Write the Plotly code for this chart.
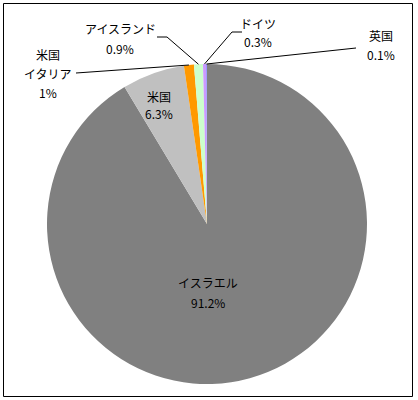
import math
import plotly.graph_objects as go

# data
names = ["イスラエル", "米国", "米国イタリア", "アイスランド", "ドイツ", "英国"]
values = [91.2, 6.3, 1.0, 0.9, 0.3, 0.1]
pct_text = ["91.2%", "6.3%", "1%", "0.9%", "0.3%", "0.1%"]
colors = ["#808080", "#C0C0C0", "#FF9900", "#CCFFCC", "#CC99FF", "#9999FF"]

W, H = 418, 400
cx, cy, r = 207, 224, 160

def px(x):
    return x / W

def py(y):
    return 1 - y / H

fig = go.Figure()
fig.add_trace(go.Pie(
    labels=names,
    values=values,
    marker=dict(colors=colors, line=dict(width=0)),
    sort=False,
    direction="clockwise",
    rotation=0,
    textinfo="none",
    hoverinfo="label+percent",
    showlegend=False,
    domain=dict(x=[px(cx - r), px(cx + r)], y=[py(cy + r), py(cy - r)]),
))

# rim point at the middle of each slice (for leader lines)
total = sum(values)
rim = []
acc = 0
for v in values:
    mid = (acc + v / 2) / total * 2 * math.pi
    rim.append((cx + r * math.sin(mid), cy - r * math.cos(mid)))
    acc += v

font = dict(family="Noto Sans CJK JP", size=12, color="black")

# label lines: (text lines, x, y of each line)
label_pos = [
    (["イスラエル", "91.2%"], 208, [282, 302]),
    (["米国", "6.3%"], 159, [96, 114]),
    (["米国", "イタリア", "1%"], 48, [54, 73, 92]),
    (["アイスランド", "0.9%"], 120, [28, 48]),
    (["ドイツ", "0.3%"], 258, [23, 42]),
    (["英国", "0.1%"], 381, [35, 54]),
]

annotations = []
for i, (lines, x, ys) in enumerate(label_pos):
    lines[-1] = pct_text[i]
    for t, y in zip(lines, ys):
        annotations.append(dict(x=px(x), y=py(y), xref="paper", yref="paper",
                                text=t, showarrow=False, font=font,
                                xanchor="center", yanchor="middle"))

# leader lines: start point and optional elbow, ending on the slice rim
leaders = {
    2: [(76, 73)],
    3: [(157, 37), (167, 37)],
    4: [(242, 32), (232, 32)],
    5: [(356, 48)],
}
shapes = []
for i, pts in leaders.items():
    pts = pts + [rim[i]]
    path = "M " + " L ".join(f"{px(x)},{py(y)}" for x, y in pts)
    shapes.append(dict(type="path", path=path, xref="paper", yref="paper",
                       line=dict(color="black", width=1)))

shapes.append(dict(type="rect", xref="paper", yref="paper",
                   x0=px(3.5), y0=py(396.5), x1=px(412.5), y1=py(3.5),
                   line=dict(color="black", width=1)))

fig.update_layout(
    width=W, height=H,
    margin=dict(l=0, r=0, t=0, b=0),
    paper_bgcolor="white",
    plot_bgcolor="white",
    annotations=annotations,
    shapes=shapes,
)

fig.write_html("out.html", config={"displayModeBar": False},
               post_script="document.body.style.margin='0';document.body.style.overflow='hidden';")
